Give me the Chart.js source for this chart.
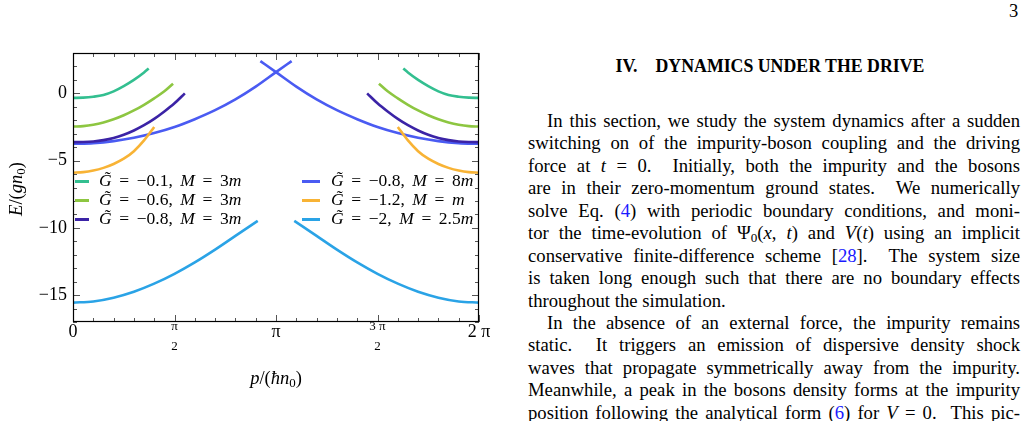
<!DOCTYPE html>
<html>
<head>
<meta charset="utf-8">
<script src="https://cdn.jsdelivr.net/npm/chart.js@4.4.0/dist/chart.umd.min.js"></script>
<style>
  html, body { margin: 0; padding: 0; background: #fff; width: 1026px; height: 421px; overflow: hidden; }
  body { position: relative; font-family: "Liberation Serif", "Times New Roman", serif; color: #000; }
  #plot { position: absolute; left: 0; top: 0; }
  sub { font-size: 70%; line-height: 0; vertical-align: -0.25em; }
  .ytitle { position: absolute; left: 16px; top: 189px; transform: translate(-50%, -50%) rotate(-90deg); font-size: 18.5px; white-space: nowrap; }
  .xtitle { position: absolute; left: 276px; top: 378px; transform: translate(-50%, -50%); font-size: 18.5px; white-space: nowrap; }
  .lrow { position: absolute; font-size: 17.5px; line-height: 19px; height: 19px; white-space: nowrap; word-spacing: 3.2px; }
  .swatch { position: absolute; height: 3px; }
  .pnum { position: absolute; left: 1009px; top: 1px; font-size: 18.5px; }
  .head { position: absolute; left: 524px; width: 492px; top: 56px; text-align: center; font-weight: bold; font-size: 17.8px; }
  .head span { margin-right: 18px; }
  .txt { position: absolute; left: 528px; top: 110px; width: 492px; font-size: 18.7px; line-height: 22.45px; word-spacing: -1.5px; }
  .txt div { text-align: justify; text-align-last: justify; height: 22.45px; }
  .txt div.ind { text-indent: 19px; }
  .txt div.last { text-align-last: left; word-spacing: 0; }
  .ref { color: #1a1aff; }
</style>
</head>
<body>
<canvas id="plot" width="500" height="421"></canvas>
<div class="ytitle"><i>E</i>/(<i>gn</i><sub>0</sub>)</div>
<div class="xtitle"><i>p</i>/(<i>ħn</i><sub>0</sub>)</div>
<div id="legend"></div>

<div class="pnum">3</div>
<div class="head"><span>IV.</span>DYNAMICS UNDER THE DRIVE</div>
<div class="txt">
  <div class="ind">In this section, we study the system dynamics after a sudden</div>
  <div>switching on of the impurity-boson coupling and the driving</div>
  <div>force at <i>t</i> = 0.&nbsp; Initially, both the impurity and the bosons</div>
  <div>are in their zero-momentum ground states.&nbsp; We numerically</div>
  <div>solve Eq. (<span class="ref">4</span>) with periodic boundary conditions, and moni-</div>
  <div>tor the time-evolution of Ψ<sub>0</sub>(<i>x</i>, <i>t</i>) and <i>V</i>(<i>t</i>) using an implicit</div>
  <div>conservative finite-difference scheme [<span class="ref">28</span>].&nbsp; The system size</div>
  <div>is taken long enough such that there are no boundary effects</div>
  <div class="last">throughout the simulation.</div>
  <div class="ind">In the absence of an external force, the impurity remains</div>
  <div>static.&nbsp; It triggers an emission of dispersive density shock</div>
  <div>waves that propagate symmetrically away from the impurity.</div>
  <div>Meanwhile, a peak in the bosons density forms at the impurity</div>
  <div>position following the analytical form (<span class="ref">6</span>) for <i>V</i> = 0.&nbsp; This pic-</div>
</div>

<script>
// x in units of pi (p/(hbar n0)), y = E/(g n0)
const xTickValues = [0, 0.5, 1, 1.5, 2];
const xTickLabels = ['0', ['π', '', '2'], 'π', ['3 π', '', '2'], '2 π'];
const yTickValues = [-15, -10, -5, 0];
const yTickLabels = ['−15', '−10', '−5', '0'];

// legend entries: G tilde and impurity mass M (in units of m)
const gTilde = ['−0.1', '−0.6', '−0.8', '−0.8', '−1.2', '−2'];
const massM = ['3', '3', '3', '8', '', '2.5'];
const colors = ['#33bf90', '#8dc641', '#3b23a6', '#4a5bf2', '#f8b335', '#2aa3e6'];

// G=-0.1, M=3m
const pG01L = [0, 0.05, 0.1, 0.15, 0.2, 0.25, 0.3, 0.35, 0.373];
const eG01L = [-0.34, -0.32, -0.25, -0.12, 0.15, 0.54, 1.0, 1.55, 1.85];
const pG01R = [1.627, 1.65, 1.7, 1.75, 1.8, 1.85, 1.9, 1.95, 2];
const eG01R = [1.85, 1.55, 1.0, 0.54, 0.15, -0.12, -0.25, -0.32, -0.34];

// G=-0.6, M=3m
const pG06L = [0, 0.05, 0.1, 0.15, 0.2, 0.25, 0.3, 0.35, 0.4, 0.45, 0.493];
const eG06L = [-2.47, -2.44, -2.34, -2.17, -1.93, -1.63, -1.27, -0.85, -0.37, 0.15, 0.72];
const pG06R = [1.507, 1.55, 1.6, 1.65, 1.7, 1.75, 1.8, 1.85, 1.9, 1.95, 2];
const eG06R = [0.72, 0.15, -0.37, -0.85, -1.27, -1.63, -1.93, -2.17, -2.34, -2.44, -2.47];

// G=-0.8, M=3m
const pG08L = [0, 0.05, 0.1, 0.15, 0.2, 0.25, 0.3, 0.35, 0.4, 0.45, 0.5, 0.551];
const eG08L = [-3.63, -3.62, -3.58, -3.48, -3.32, -3.08, -2.76, -2.37, -1.9, -1.35, -0.74, 0.0];
const pG08R = [1.449, 1.5, 1.55, 1.6, 1.65, 1.7, 1.75, 1.8, 1.85, 1.9, 1.95, 2];
const eG08R = [0.0, -0.74, -1.35, -1.9, -2.37, -2.76, -3.08, -3.32, -3.48, -3.58, -3.62, -3.63];

// G=-0.8, M=8m
const pH08L = [0, 0.1, 0.2, 0.3, 0.4, 0.5, 0.6, 0.7, 0.8, 0.9, 1.0, 1.077];
const eH08L = [-3.75, -3.7, -3.55, -3.3, -2.95, -2.5, -1.92, -1.25, -0.45, 0.5, 1.58, 2.4];
const pH08R = [0.923, 1.0, 1.1, 1.2, 1.3, 1.4, 1.5, 1.6, 1.7, 1.8, 1.9, 2];
const eH08R = [2.4, 1.58, 0.5, -0.45, -1.25, -1.92, -2.5, -2.95, -3.3, -3.55, -3.7, -3.75];

// G=-1.2, M=m
const pG12L = [0, 0.05, 0.1, 0.15, 0.2, 0.25, 0.3, 0.35, 0.4];
const eG12L = [-5.9, -5.86, -5.74, -5.54, -5.25, -4.86, -4.3, -3.5, -2.5];
const pG12R = [1.6, 1.65, 1.7, 1.75, 1.8, 1.85, 1.9, 1.95, 2];
const eG12R = [-2.5, -3.5, -4.3, -4.86, -5.25, -5.54, -5.74, -5.86, -5.9];

// G=-2, M=2.5m
const pG20L = [0, 0.1, 0.2, 0.3, 0.4, 0.5, 0.6, 0.7, 0.8, 0.91];
const eG20L = [-15.56, -15.47, -15.19, -14.75, -14.15, -13.42, -12.57, -11.62, -10.6, -9.48];
const pG20R = [1.09, 1.2, 1.3, 1.4, 1.5, 1.6, 1.7, 1.8, 1.9, 2];
const eG20R = [-9.48, -10.6, -11.62, -12.57, -13.42, -14.15, -14.75, -15.19, -15.47, -15.56];

const branches = [
  [pG01L, eG01L, 0], [pG01R, eG01R, 0],
  [pG06L, eG06L, 1], [pG06R, eG06R, 1],
  [pG08L, eG08L, 2], [pG08R, eG08R, 2],
  [pG12L, eG12L, 4], [pG12R, eG12R, 4],
  [pH08L, eH08L, 3], [pH08R, eH08R, 3],
  [pG20L, eG20L, 5], [pG20R, eG20R, 5]
];

function pts(xs, ys) {
  return xs.map((x, i) => ({ x: x, y: ys[i] }));
}

const datasets = branches.map(b => ({
  data: pts(b[0], b[1]),
  borderColor: colors[b[2]],
  borderWidth: 2.6,
  pointRadius: 0,
  fill: false,
  cubicInterpolationMode: 'monotone'
}));

// frame with inward ticks on all four sides, like the original
const frameTicks = {
  id: 'frameTicks',
  afterDatasetsDraw(chart) {
    const { ctx, chartArea: a, scales } = chart;
    const x = scales.x, y = scales.y;
    ctx.save();
    ctx.strokeStyle = '#555';
    ctx.lineWidth = 1;
    ctx.beginPath();
    for (let k = 0; k <= 20; k++) {
      const px = Math.round(x.getPixelForValue(k / 10)) + 0.5;
      const len = k % 5 === 0 ? 7 : 4;
      ctx.moveTo(px, a.bottom); ctx.lineTo(px, a.bottom - len);
      ctx.moveTo(px, a.top); ctx.lineTo(px, a.top + len);
    }
    for (let v = -17; v <= 3; v++) {
      const py = Math.round(y.getPixelForValue(v)) + 0.5;
      const len = v % 5 === 0 ? 7 : 4;
      ctx.moveTo(a.left, py); ctx.lineTo(a.left + len, py);
      ctx.moveTo(a.right, py); ctx.lineTo(a.right - len, py);
    }
    ctx.stroke();
    ctx.strokeStyle = '#000';
    ctx.lineWidth = 1.2;
    ctx.strokeRect(a.left + 0.5, a.top + 0.5, a.right - a.left - 1, a.bottom - a.top - 1);
    ctx.restore();
  }
};

const chart = new Chart(document.getElementById('plot'), {
  type: 'line',
  data: { datasets: datasets },
  plugins: [frameTicks],
  options: {
    responsive: false,
    animation: false,
    devicePixelRatio: 1,
    layout: { padding: { left: 0, right: 21, top: 53, bottom: 0 } },
    plugins: { legend: { display: false }, tooltip: { enabled: false } },
    scales: {
      x: {
        type: 'linear',
        min: 0, max: 2,
        afterFit: s => { s.height = 99; },
        afterBuildTicks: s => { s.ticks = xTickValues.map(v => ({ value: v })); },
        grid: { display: false, drawTicks: false },
        border: { display: false },
        ticks: {
          autoSkip: false, maxRotation: 0, padding: 0, color: '#000',
          callback: (v, i) => xTickLabels[i],
          font: c => Array.isArray(xTickLabels[c.index])
            ? { family: 'Liberation Serif', size: 13, lineHeight: '10px' }
            : { family: 'Liberation Serif', size: 18, lineHeight: '21px' }
        }
      },
      y: {
        type: 'linear',
        min: -17, max: 3,
        afterFit: s => { s.width = 73; },
        afterBuildTicks: s => { s.ticks = yTickValues.map(v => ({ value: v })); },
        grid: { display: false, drawTicks: false },
        border: { display: false },
        ticks: {
          padding: 6, color: '#000',
          callback: (v, i) => yTickLabels[i],
          font: { family: 'Liberation Serif', size: 18 }
        }
      }
    }
  }
});

// legend drawn as html, two columns of three rows inside the frame
const legendBox = document.getElementById('legend');
gTilde.forEach((g, i) => {
  const col = i < 3 ? 0 : 1;
  const row = i % 3;
  const top = 171 + row * 19;
  const sw = document.createElement('div');
  sw.className = 'swatch';
  sw.style.left = (col === 0 ? 75 : 302) + 'px';
  sw.style.width = (col === 0 ? 14 : 18) + 'px';
  sw.style.top = (top + 9) + 'px';
  sw.style.background = colors[i];
  legendBox.appendChild(sw);
  const t = document.createElement('div');
  t.className = 'lrow';
  t.style.left = (col === 0 ? 99 : 331) + 'px';
  t.style.top = top + 'px';
  t.innerHTML = '<i>G\u0303</i> = ' + g + ', <i>M</i> = ' + massM[i] + '<i>m</i>';
  legendBox.appendChild(t);
});
</script>
</body>
</html>
